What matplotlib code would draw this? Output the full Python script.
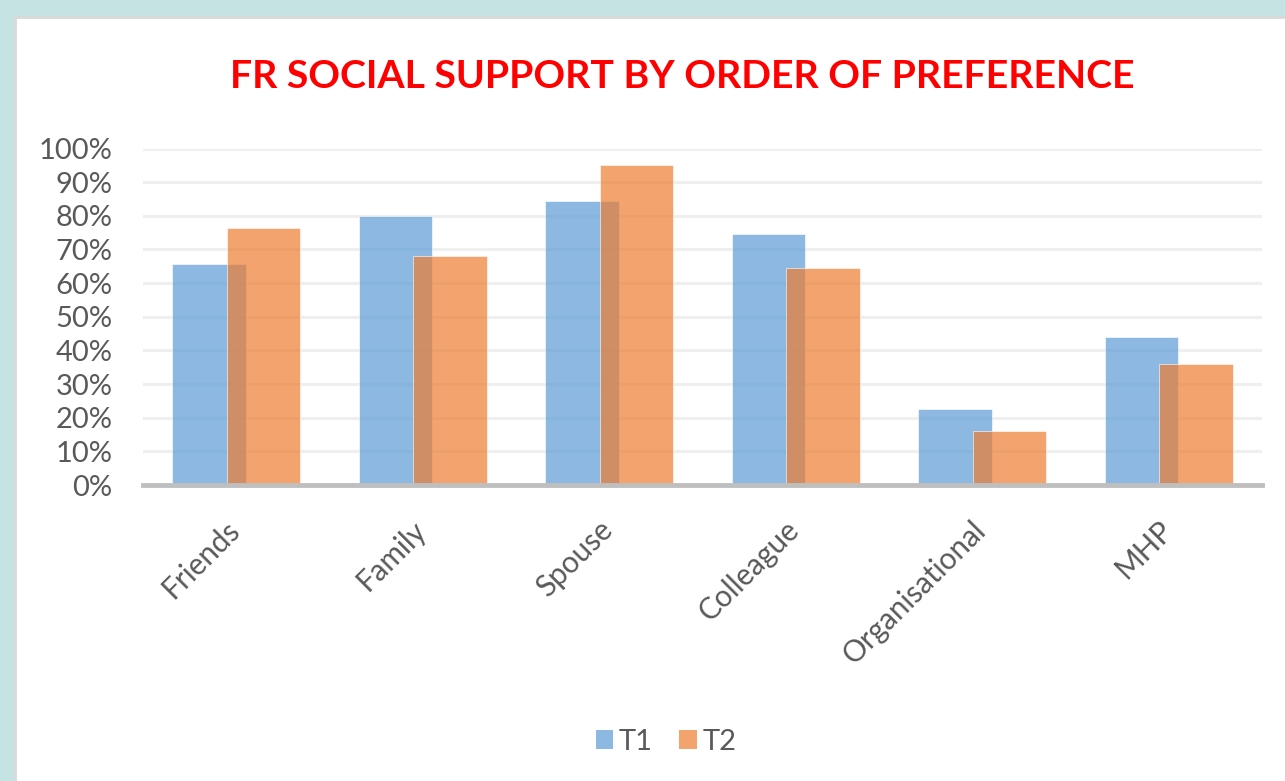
import matplotlib
matplotlib.use('Agg')
import matplotlib.pyplot as plt
import matplotlib.transforms as transforms
from matplotlib.patches import Rectangle, Patch
import numpy as np

# data (percent)
categories = ['Friends', 'Family', 'Spouse', 'Colleague', 'Organisational', 'MHP']
t1 = [65.6, 79.9, 84.4, 74.6, 22.6, 44.1]
t2 = [76.3, 68.1, 95.1, 64.5, 16.1, 36.0]
yticks = [0, 10, 20, 30, 40, 50, 60, 70, 80, 90, 100]

blue = '#5B9BD5'
orange = '#ED7D31'
textGray = '#595959'

plt.rcParams['font.family'] = ['Lato', 'DejaVu Sans']

figure = plt.figure(figsize=(12.85, 7.81), dpi=100)
figure.patch.set_facecolor('#C4E3E2')

# white chart panel with a thin grey border
panel = Rectangle((15 / 1285, -0.05), 1.1, 1 - 17 / 781 + 0.05,
                  transform=figure.transFigure, facecolor='white',
                  edgecolor='#D9D9D9', linewidth=2, zorder=-10)
figure.add_artist(panel)

axes = figure.add_axes([143 / 1285, 1 - 485 / 781, (1262 - 143) / 1285,
                        (485 - 148.5) / 781])
axes.set_facecolor('none')

x = np.arange(len(categories))
width = 0.395
offset = 0.1465
axes.bar(x - offset, t1, width, color=blue, alpha=0.7, edgecolor='white',
         linewidth=0.6, zorder=2)
axes.bar(x + offset, t2, width, color=orange, alpha=0.7, edgecolor='white',
         linewidth=0.6, zorder=3)

axes.set_xlim(-0.5, len(categories) - 0.5)
axes.set_ylim(0, 100)
axes.set_yticks(yticks)
axes.set_yticklabels(['%d%%' % v for v in yticks])
axes.yaxis.grid(True, color='#EFEFEF', linewidth=2.2, zorder=0)
axes.set_axisbelow(True)

for side in ['top', 'right', 'left']:
   axes.spines[side].set_visible(False)
axes.spines['bottom'].set_color('#BFBFBF')
axes.spines['bottom'].set_linewidth(3.5)
axes.spines['bottom'].set_zorder(4)

axes.tick_params(axis='y', length=0, pad=22, labelsize=21, labelcolor=textGray)
axes.tick_params(axis='x', length=0, pad=22, labelsize=21.3, labelcolor=textGray)
axes.set_xticks(x)
axes.set_xticklabels(categories, rotation=45, ha='right', va='top',
                     rotation_mode='anchor')

# nudge the rotated category labels a little to the left
shift = transforms.ScaledTranslation(-11 / 100, 0, figure.dpi_scale_trans)
for tickLabel in axes.get_xticklabels():
   tickLabel.set_transform(tickLabel.get_transform() + shift)

figure.text(682 / 1285, 1 - 77 / 781, 'FR SOCIAL SUPPORT BY ORDER OF PREFERENCE',
            ha='center', va='center', color='#FF0000', fontsize=28.3,
            fontweight='bold')

handles = [Patch(facecolor=blue, alpha=0.7, label='T1'),
           Patch(facecolor=orange, alpha=0.7, label='T2')]
figure.legend(handles=handles, loc='center', bbox_to_anchor=(666 / 1285, 1 - 742 / 781),
              ncol=2, frameon=False, fontsize=21, labelcolor=textGray,
              handlelength=0.6, handleheight=0.6, handletextpad=0.2,
              columnspacing=0.9)

figure.savefig('out.png', dpi=100, facecolor=figure.get_facecolor())
